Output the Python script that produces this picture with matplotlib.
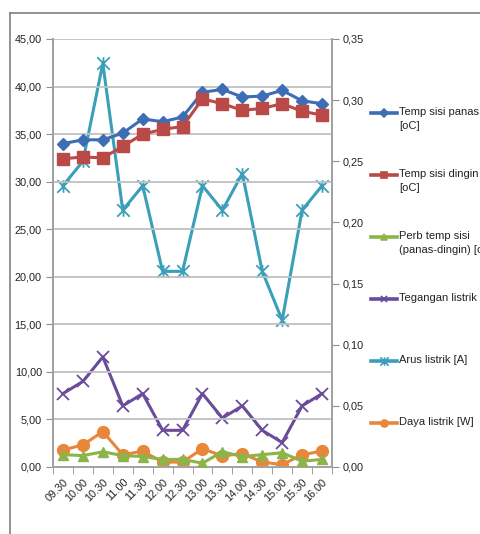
import matplotlib
matplotlib.use("Agg")
import matplotlib.pyplot as plt
from matplotlib.lines import Line2D
from matplotlib.path import Path
from matplotlib.ticker import FuncFormatter, MultipleLocator

plt.rcParams["font.family"] = ["Liberation Sans", "DejaVu Sans"]

# waktu pengukuran
jam = ["09.30", "10.00", "10.30", "11.00", "11.30", "12.00", "12.30",
       "13.00", "13.30", "14.00", "14.30", "15.00", "15.30", "16.00"]

# sumbu kiri
temp_panas = [34.0, 34.4, 34.4, 35.1, 36.6, 36.3, 36.8, 39.4, 39.7, 38.9, 39.0, 39.6, 38.5, 38.2]
temp_dingin = [32.4, 32.6, 32.5, 33.7, 35.0, 35.5, 35.8, 38.7, 38.2, 37.5, 37.7, 38.2, 37.4, 37.0]
perb_temp = [1.3, 1.2, 1.6, 1.2, 1.1, 0.8, 0.8, 0.4, 1.6, 1.1, 1.3, 1.5, 0.6, 0.8]

# sumbu kanan
tegangan = [0.06, 0.07, 0.09, 0.05, 0.06, 0.03, 0.03, 0.06, 0.04, 0.05, 0.03, 0.02, 0.05, 0.06]
arus = [0.23, 0.25, 0.33, 0.21, 0.23, 0.16, 0.16, 0.23, 0.21, 0.24, 0.16, 0.12, 0.21, 0.23]
daya = [0.014, 0.018, 0.029, 0.010, 0.013, 0.004, 0.004, 0.015, 0.009, 0.011, 0.004, 0.002, 0.010, 0.013]

# marker bintang ala Excel (x + garis tegak)
star = Path([(-1, -1), (1, 1), (-1, 1), (1, -1), (0, -1), (0, 1)],
            [Path.MOVETO, Path.LINETO, Path.MOVETO, Path.LINETO, Path.MOVETO, Path.LINETO])

c_blue = "#3d6db5"
c_red = "#b94a48"
c_green = "#8bb548"
c_purple = "#6b4c9a"
c_cyan = "#3a9fb8"
c_orange = "#e8873a"

W, H = 480, 534
fig = plt.figure(figsize=(W / 100, H / 100), dpi=100)
ax = fig.add_axes([53 / W, 1 - 467 / H, (332 - 53) / W, (467 - 39) / H])
ax2 = ax.twinx()

x = list(range(len(jam)))
lw = 2.2
ax.plot(x, temp_panas, color=c_blue, lw=lw, marker="D", ms=6.5, zorder=5)
ax.plot(x, temp_dingin, color=c_red, lw=lw, marker="s", ms=8, zorder=5)
ax.plot(x, perb_temp, color=c_green, lw=lw, marker="^", ms=7.5, zorder=5)
ax2.plot(x, tegangan, color=c_purple, lw=lw, marker="x", ms=8, mew=1.3)
ax2.plot(x, arus, color=c_cyan, lw=lw, marker=star, ms=9, mew=1.3)
ax2.plot(x, daya, color=c_orange, lw=lw, marker="o", ms=8.5)

ax.set_zorder(ax2.get_zorder() + 1)
ax.patch.set_visible(False)

fmt = FuncFormatter(lambda v, p: f"{v:.2f}".replace(".", ","))
ax.set_ylim(0, 45)
ax.yaxis.set_major_locator(MultipleLocator(5))
ax.yaxis.set_major_formatter(fmt)
ax2.set_ylim(0, 0.35)
ax2.yaxis.set_major_locator(MultipleLocator(0.05))
ax2.yaxis.set_major_formatter(fmt)

ax.set_xlim(-0.5, len(jam) - 0.5)
ax.set_xticks(x)
ax.set_xticklabels(jam, rotation=45, ha="right", va="top", rotation_mode="anchor")
ax.set_xticks([i - 0.5 for i in range(len(jam) + 1)], minor=True)
ax.tick_params(axis="x", which="major", length=0, pad=7)
ax.tick_params(axis="x", which="minor", length=5, color="#909090", direction="out")

ax.grid(axis="y", color="#c0c0c0", lw=1.3)
ax.set_axisbelow(True)

for a in (ax, ax2):
    a.tick_params(axis="y", length=5, color="#909090", labelsize=7.8, labelcolor="#222222", pad=3)
    a.tick_params(axis="x", labelsize=7.8, labelcolor="#222222")
    a.spines["top"].set_visible(False)
    for s in ["left", "right", "bottom"]:
        a.spines[s].set_color("#a0a0a0")
        a.spines[s].set_linewidth(1.2)

# bingkai area grafik
fig.add_artist(Line2D([10 / W, 10 / W], [0, 1 - 13 / H], color="#808080", lw=1.2))
fig.add_artist(Line2D([10 / W, 1], [1 - 13 / H, 1 - 13 / H], color="#808080", lw=1.2))

# legenda manual
legend_items = [
    ("Temp sisi panas\n[oC]", c_blue, "D", 4),
    ("Temp sisi dingin\n[oC]", c_red, "s", 5),
    ("Perb temp sisi\n(panas-dingin) [oC]", c_green, "^", 5),
    ("Tegangan listrik [V]", c_purple, "x", 5),
    ("Arus listrik [A]", c_cyan, star, 6),
    ("Daya listrik [W]", c_orange, "o", 5),
]
for i, (label, col, mk, ms) in enumerate(legend_items):
    yy = 1 - (113 + 62 * i) / H
    fig.add_artist(Line2D([371 / W, 397 / W], [yy, yy], color=col, lw=2.6))
    fig.add_artist(Line2D([384 / W], [yy], color=col, marker=mk, ms=ms, mew=1.2))
    fig.text(399 / W, yy + 6 / H, label, fontsize=8, color="#222222",
             ha="left", va="top", linespacing=1.55)

fig.savefig("out.png", dpi=100)
